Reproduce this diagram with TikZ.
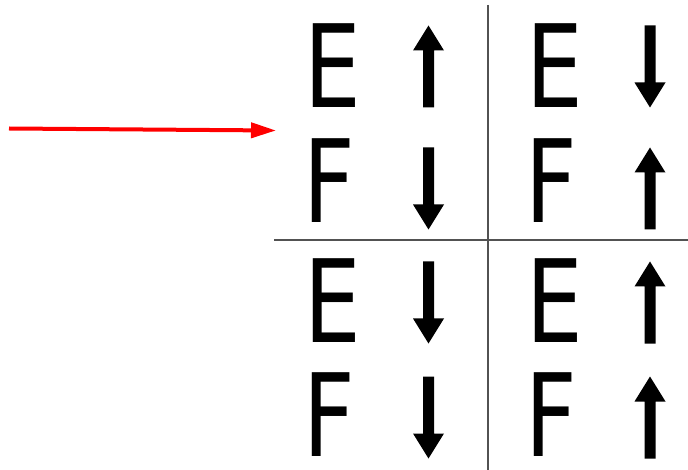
\documentclass[tikz,border=0pt]{standalone}
\usepackage{fontspec}
\setmainfont{DejaVu Sans}
\usetikzlibrary{arrows.meta}
\newcommand{\narrow}[1]{\scalebox{0.78}[1]{#1}}
\begin{document}
\begin{tikzpicture}[x=1pt,y=-1pt,
  letter/.style={inner sep=0pt, anchor=base, text depth=0pt,
    font=\fontsize{115}{115}\selectfont},
  grid line/.style={draw=black!68, line width=2pt},
  pointer/.style={draw=red, line width=4pt, -{Triangle[length=25pt,width=15pt]}},
  up/.pic={\fill[black] (0,-41) -- (15.5,-16) -- (5.5,-16) -- (5.5,41)
            -- (-5.5,41) -- (-5.5,-16) -- (-15.5,-16) -- cycle;},
  down/.pic={\fill[black] (0,41) -- (15.5,16) -- (5.5,16) -- (5.5,-41)
            -- (-5.5,-41) -- (-5.5,16) -- (-15.5,16) -- cycle;},
]
\useasboundingbox (0,0) rectangle (688,470);

% dividing cross
\coordinate (vtop) at (487.5,5);
\coordinate (vbot) at (487.5,470);
\coordinate (hleft) at (274,240.5);
\coordinate (hright) at (688,240.5);
\draw[grid line] (vtop) -- (vbot);
\draw[grid line] (hleft) -- (hright);

% letters, left column
\node[letter] (e1) at (332.5,108) {\narrow{E}};
\node[letter] (f1) at (329.5,223) {\narrow{F}};
\node[letter] (e3) at (332.5,342) {\narrow{E}};
\node[letter] (f3) at (329.5,456) {\narrow{F}};
% letters, right column
\node[letter] (e2) at (554.5,108) {\narrow{E}};
\node[letter] (f2) at (551.5,223) {\narrow{F}};
\node[letter] (e4) at (554.5,342) {\narrow{E}};
\node[letter] (f4) at (551.5,456) {\narrow{F}};

% direction arrows
\pic at (428.5,66.5) {up};
\pic at (428.5,188.5) {down};
\pic at (428.5,302.5) {down};
\pic at (428.5,417.5) {down};
\pic at (650,66.5) {down};
\pic at (650,188.5) {up};
\pic at (650,302.5) {up};
\pic at (650,417.5) {up};

% red pointer
\coordinate (src) at (9,128.5);
\coordinate (dst) at (276,130.5);
\draw[pointer] (src) -- (dst);
\end{tikzpicture}
\end{document}
